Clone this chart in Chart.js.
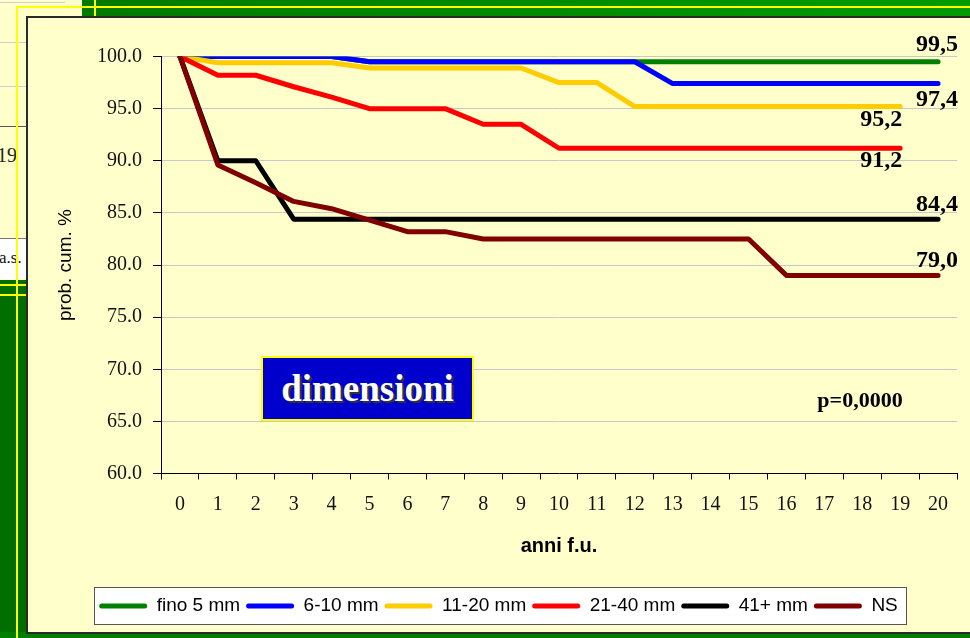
<!DOCTYPE html>
<html><head><meta charset="utf-8">
<script src="https://cdn.jsdelivr.net/npm/chart.js@4.4.1/dist/chart.umd.min.js"></script>
<style>
html,body{margin:0;padding:0;}
body{width:970px;height:638px;position:relative;overflow:hidden;background:#FFFFCC;}
.abs{position:absolute;}
</style></head><body>
<!-- background slide fragments -->
<div class="abs" style="left:0;top:2px;width:65px;height:1px;background:#cfcfcf"></div>
<div class="abs" style="left:0;top:42px;width:27px;height:1px;background:#cfcfcf"></div>
<div class="abs" style="left:0;top:86px;width:27px;height:1px;background:#cfcfcf"></div>
<div class="abs" style="left:0;top:126px;width:27px;height:1px;background:#555"></div>
<div class="abs" style="left:-3px;top:143px;font:20px 'Liberation Serif',serif;color:#222;line-height:24px">19</div>
<div class="abs" style="left:0;top:238px;width:27px;height:40px;background:#fff;border-top:1px solid #777;overflow:hidden"><div style="position:absolute;left:-1px;top:9px;font:17px 'Liberation Serif',serif;color:#111;line-height:20px">a.s.</div></div>
<div class="abs" style="left:82px;top:0;width:888px;height:17px;background:linear-gradient(to right,#007a00,#009c00)"></div>
<div class="abs" style="left:0;top:280px;width:27px;height:358px;background:#006e00"></div>
<div class="abs" style="left:0;top:632px;width:970px;height:6px;background:#008000"></div>
<div class="abs" style="left:17px;top:6px;width:953px;height:2px;background:#FFFF00"></div>
<div class="abs" style="left:16px;top:6px;width:2px;height:632px;background:#FFFF00"></div>
<div class="abs" style="left:94px;top:0;width:2px;height:17px;background:#FFFF00"></div>
<div class="abs" style="left:0;top:284px;width:27px;height:2px;background:#FFFF00"></div>
<div class="abs" style="left:0;top:294px;width:27px;height:2px;background:#FFFF00"></div>
<!-- chart panel -->
<div class="abs" style="left:26px;top:16px;width:1000px;height:614px;border:2px solid #2a2a2a;background:#FFFFCC"></div>
<!-- legend frame -->
<div class="abs" style="left:94px;top:587px;width:813px;height:38px;background:#fff;border:1px solid #555;box-sizing:border-box"></div>
<canvas id="c" width="970" height="638" style="position:absolute;left:0;top:0"></canvas>
<div class="abs" style="left:261px;top:356px;width:213px;height:65px;box-sizing:border-box;border:2px solid #FFFF00;background:#0000CC;color:#fff;font:bold 37px 'Liberation Serif',serif;text-align:center;line-height:61px;text-shadow:2px 2px 0 #333">dimensioni</div>
<div class="abs" style="left:790px;top:386px;width:140px;text-align:center;font:bold 22px 'Liberation Serif',serif;color:#000;line-height:28px">p=0,0000</div>
<script>
const years = ['0','1','2','3','4','5','6','7','8','9','10','11','12','13','14','15','16','17','18','19','20'];
const seriesNames = ['fino 5 mm','6-10 mm','11-20 mm','21-40 mm','41+ mm','NS'];
const fino5mm  = [100,100,100,100,100,99.5,99.5,99.5,99.5,99.5,99.5,99.5,99.5,99.5,99.5,99.5,99.5,99.5,99.5,99.5,99.5];
const mm6_10   = [100,100,100,100,100,99.5,99.5,99.5,99.5,99.5,99.5,99.5,99.5,97.4,97.4,97.4,97.4,97.4,97.4,97.4,97.4];
const mm11_20  = [100,99.4,99.4,99.4,99.4,98.9,98.9,98.9,98.9,98.9,97.5,97.5,95.2,95.2,95.2,95.2,95.2,95.2,95.2,95.2,null];
const mm21_40  = [100,98.2,98.2,97.1,96.1,95.0,95.0,95.0,93.5,93.5,91.2,91.2,91.2,91.2,91.2,91.2,91.2,91.2,91.2,91.2,null];
const mm41plus = [100,90.0,90.0,84.4,84.4,84.4,84.4,84.4,84.4,84.4,84.4,84.4,84.4,84.4,84.4,84.4,84.4,84.4,84.4,84.4,84.4];
const nsSeries = [100,89.6,87.9,86.1,85.4,84.3,83.2,83.2,82.5,82.5,82.5,82.5,82.5,82.5,82.5,82.5,79.0,79.0,79.0,79.0,79.0];
const yTicks = [60,65,70,75,80,85,90,95,100];

const colors = ['#008000','#0000FF','#FFCC00','#FF0000','#000000','#800000'];
const allSeries = [fino5mm, mm6_10, mm11_20, mm21_40, mm41plus, nsSeries];
// label placement for the end values (offsets from last point)
const endPlace = [
  {dx:-22, dy:-17, align:'left'},
  {dx:-22, dy:16, align:'left'},
  {dx:2, dy:13, align:'right'},
  {dx:2, dy:13, align:'right'},
  {dx:-22, dy:-14, align:'left'},
  {dx:-22, dy:-15, align:'left'}
];

const endLabels = {
  id:'endLabels',
  afterDatasetsDraw(chart){
    const ctx = chart.ctx;
    ctx.save();
    ctx.font = "bold 24px 'Liberation Serif', serif";
    ctx.fillStyle = '#000';
    ctx.textBaseline = 'middle';
    chart.data.datasets.forEach((ds,i)=>{
      const meta = chart.getDatasetMeta(i);
      let idx = ds.data.length-1;
      while (idx>=0 && ds.data[idx]==null) idx--;
      const pt = meta.data[idx];
      const txt = ds.data[idx].toFixed(1).replace('.',',');
      const p = endPlace[i];
      ctx.textAlign = p.align;
      ctx.fillText(txt, pt.x + p.dx, pt.y + p.dy);
    });
    ctx.restore();
  }
};

const datasets = allSeries.map((d,i)=>({
  label: seriesNames[i],
  data: d,
  borderColor: colors[i],
  backgroundColor: colors[i],
  borderWidth: 5,
  borderCapStyle: 'round',
  borderJoinStyle: 'round',
  pointRadius: 0,
  pointHoverRadius: 0,
  tension: 0,
  fill: false,
  spanGaps: false,
  order: allSeries.length - i
}));

new Chart(document.getElementById('c'), {
  type: 'line',
  data: { labels: years, datasets },
  options: {
    responsive: false,
    animation: false,
    events: [],
    layout: { padding: { top: 56.5, right: 13, left: 40, bottom: 12.5 } },
    plugins: {
      tooltip: { enabled: false },
      legend: {
        position: 'bottom',
        labels: {
          boxWidth: 48,
          boxHeight: 5,
          padding: 6,
          color: '#000',
          font: { family: "'Liberation Sans', Arial, sans-serif", size: 19 },
          generateLabels: (chart) => chart.data.datasets.map((ds,i)=>({
            text: ds.label, fillStyle: ds.borderColor, strokeStyle: ds.borderColor,
            lineWidth: 0, borderRadius: 2.5, hidden: false, datasetIndex: i, fontColor: '#000'
          }))
        }
      }
    },
    scales: {
      x: {
        type: 'category',
        offset: true,
        grid: { display: true, drawOnChartArea: false, drawTicks: true, tickLength: 6, offset: true, color: '#000', tickColor: '#000' },
        border: { display: true, color: '#000', width: 1 },
        ticks: { color: '#111', font: { family: "'Liberation Serif', serif", size: 20 }, padding: 13, maxRotation: 0, autoSkip: false },
        title: { display: true, text: 'anni f.u.', color: '#000', font: { family: "'Liberation Sans', Arial, sans-serif", size: 20, weight: 'bold' }, padding: { top: 0, bottom: 32.5 } },
        afterFit: (s) => { s.height = 117; }
      },
      y: {
        min: 60, max: 100,
        afterBuildTicks: (s) => { s.ticks = yTicks.map(v=>({value:v})); },
        grid: { color: '#c8c8c8', lineWidth: 1, drawTicks: true, tickLength: 8, tickColor: '#000' },
        border: { display: true, color: '#000', width: 1 },
        ticks: { color: '#111', font: { family: "'Liberation Serif', serif", size: 20 }, padding: 11, callback: (v)=>Number(v).toFixed(1) },
        title: { display: true, text: 'prob. cum. %', color: '#000', font: { family: "'Liberation Sans', Arial, sans-serif", size: 19 }, padding: { top: 14, bottom: 0 } },
        afterFit: (s) => { s.width = 121; }
      }
    }
  },
  plugins: [endLabels]
});
</script>
</body></html>
